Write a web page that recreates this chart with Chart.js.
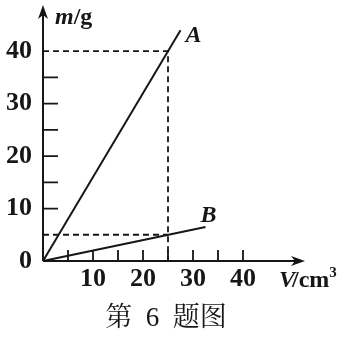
<!DOCTYPE html>
<html>
<head>
<meta charset="utf-8">
<script src="https://cdn.jsdelivr.net/npm/chart.js@4/dist/chart.umd.min.js"></script>
<style>
  html, body { margin: 0; padding: 0; background: #fff; }
  #chart { display: block; }
</style>
</head>
<body>
<canvas id="chart" width="348" height="338"></canvas>
<script>
// values
var volA = [0, 27.5];
var massA = [0, 44];
var volB = [0, 32.5];
var massB = [0, 6.5];
// dashed guide lines (40 g at 25 cm3 and 5 g at 25 cm3)
var guideVolA = [0, 25, 25];
var guideMassA = [40, 40, 0];
var guideVolB = [0, 25];
var guideMassB = [5, 5];
var yTickLabels = [0, 10, 20, 30, 40];
var xTickLabels = [10, 20, 30, 40];
var minorTicks = [5, 10, 15, 20, 25, 30, 35, 40];

var INK = '#161616';
var SERIF = '"Liberation Serif", "DejaVu Serif", serif';

function pts(xs, ys) {
    var out = [];
    for (var i = 0; i < xs.length; i++) out.push({x: xs[i], y: ys[i]});
    return out;
}

function solid(label, xs, ys) {
    return {label: label, data: pts(xs, ys), borderColor: INK, borderWidth: 2,
            pointRadius: 0, tension: 0, clip: false};
}
function dashed(label, xs, ys) {
    return {label: label, data: pts(xs, ys), borderColor: INK, borderWidth: 1.8,
            borderDash: [6, 4], pointRadius: 0, tension: 0, clip: false};
}

// axes with arrows, inner tick marks and the labels drawn on the canvas
var axisPlugin = {
    id: 'axisPlugin',
    beforeDatasetsDraw: function(chart) {
        var ctx = chart.ctx, xs = chart.scales.x, ys = chart.scales.y;
        var x0 = xs.getPixelForValue(0), y0 = ys.getPixelForValue(0);
        var right = chart.chartArea.right, top = chart.chartArea.top;
        ctx.save();
        ctx.strokeStyle = INK;
        ctx.fillStyle = INK;
        ctx.lineWidth = 2;
        ctx.beginPath();
        ctx.moveTo(x0, y0); ctx.lineTo(right - 4, y0);
        ctx.moveTo(x0, y0); ctx.lineTo(x0, top + 4);
        ctx.stroke();
        // arrow heads
        ctx.beginPath();
        ctx.moveTo(right, y0); ctx.lineTo(right - 14, y0 - 5); ctx.lineTo(right - 10, y0); ctx.lineTo(right - 14, y0 + 5);
        ctx.closePath(); ctx.fill();
        ctx.beginPath();
        ctx.moveTo(x0, top); ctx.lineTo(x0 - 5, top + 14); ctx.lineTo(x0, top + 10); ctx.lineTo(x0 + 5, top + 14);
        ctx.closePath(); ctx.fill();
        // tick marks
        ctx.lineWidth = 1.8;
        ctx.beginPath();
        minorTicks.forEach(function(v) {
            var px = xs.getPixelForValue(v);
            ctx.moveTo(px, y0); ctx.lineTo(px, y0 - 11);
            if (v !== 5 && v !== 40) {
                var py = ys.getPixelForValue(v);
                ctx.moveTo(x0, py); ctx.lineTo(x0 + 15, py);
            }
        });
        ctx.stroke();
        ctx.restore();
    },
    afterDraw: function(chart) {
        var ctx = chart.ctx, xs = chart.scales.x, ys = chart.scales.y;
        var x0 = xs.getPixelForValue(0);
        var right = chart.chartArea.right, top = chart.chartArea.top;
        ctx.save();
        ctx.fillStyle = INK;
        ctx.textBaseline = 'alphabetic';
        // y axis title: m/g
        ctx.font = 'italic bold 24px ' + SERIF;
        var tx = x0 + 12;
        ctx.fillText('m', tx, top + 19);
        tx += ctx.measureText('m').width;
        ctx.font = 'bold 24px ' + SERIF;
        ctx.fillText('/g', tx, top + 19);
        // x axis title: V/cm3
        var by = ys.getPixelForValue(0) + 26;
        tx = right - 26;
        ctx.font = 'italic bold 24px ' + SERIF;
        ctx.fillText('V', tx, by);
        tx += ctx.measureText('V').width - 3;
        ctx.font = 'bold 24px ' + SERIF;
        ctx.fillText('/cm', tx, by);
        tx += ctx.measureText('/cm').width;
        ctx.font = 'bold 15px ' + SERIF;
        ctx.fillText('3', tx, by - 10);
        // line labels
        ctx.font = 'italic bold 24px ' + SERIF;
        ctx.textAlign = 'center';
        ctx.textBaseline = 'middle';
        var nA = volA.length - 1, nB = volB.length - 1;
        ctx.fillText('A', xs.getPixelForValue(volA[nA]) + 13, ys.getPixelForValue(massA[nA]) + 6);
        ctx.fillText('B', xs.getPixelForValue(volB[nB]) + 3, ys.getPixelForValue(massB[nB]) - 11);
        ctx.restore();
    }
};

var ctx = document.getElementById('chart').getContext('2d');
var chart = new Chart(ctx, {
    type: 'scatter',
    data: {
        datasets: [
            solid('A', volA, massA),
            solid('B', volB, massB),
            dashed('guideA', guideVolA, guideMassA),
            dashed('guideB', guideVolB, guideMassB)
        ]
    },
    options: {
        responsive: false,
        animation: false,
        devicePixelRatio: 1,
        showLine: true,
        layout: {padding: {top: 5, right: 16, left: 0, bottom: 0}},
        plugins: {
            legend: {display: false},
            tooltip: {enabled: false},
            title: {
                display: true,
                position: 'bottom',
                text: '第\u20026\u2002题图',
                color: INK,
                font: {family: '"Liberation Serif", "Noto Serif CJK SC", "Noto Sans CJK SC", serif', size: 27, weight: 'normal'},
                padding: {top: 5, bottom: 3}
            }
        },
        scales: {
            x: {
                type: 'linear',
                min: 0,
                max: 52.4,
                grid: {display: false, drawTicks: false},
                border: {display: false},
                afterFit: function(scale) {
                    scale.height = 36.6;
                    scale.paddingLeft = 0;
                    scale.paddingRight = 43;
                },
                ticks: {
                    stepSize: 5,
                    autoSkip: false,
                    maxRotation: 0,
                    padding: 3,
                    color: INK,
                    font: {family: SERIF, size: 26, weight: 'bold'},
                    callback: function(v) { return xTickLabels.indexOf(v) >= 0 ? String(v) : null; }
                }
            },
            y: {
                type: 'linear',
                min: 0,
                max: 48.8,
                grid: {display: false, drawTicks: false},
                border: {display: false},
                afterFit: function(scale) {
                    scale.width = 43;
                    scale.paddingTop = 0;
                    scale.paddingBottom = 0;
                },
                ticks: {
                    stepSize: 5,
                    autoSkip: false,
                    padding: 11,
                    color: INK,
                    font: {family: SERIF, size: 26, weight: 'bold'},
                    callback: function(v) { return yTickLabels.indexOf(v) >= 0 ? String(v) : null; }
                }
            }
        }
    },
    plugins: [axisPlugin]
});
</script>
</body>
</html>
